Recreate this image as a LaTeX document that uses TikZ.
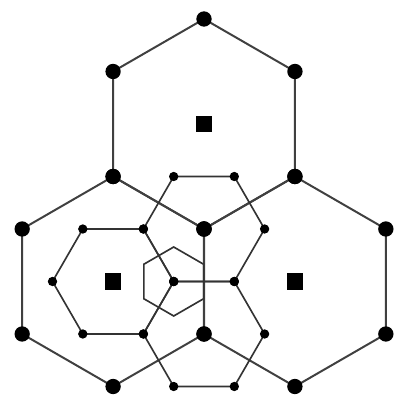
\documentclass[tikz,border=0pt]{standalone}
\begin{document}
\begin{tikzpicture}[x=0.03cm, y=0.03cm,
        bigline/.style={line width=1.7pt, black!75},
        smallline/.style={line width=1.4pt, black!80},
        bigdot/.style={circle, fill=black, inner sep=0pt, minimum size=0.46cm},
        smalldot/.style={circle, fill=black, inner sep=0pt, minimum size=0.28cm},
        centre/.style={rectangle, fill=black, inner sep=0pt, minimum size=0.5cm}]

        \useasboundingbox (0,0) rectangle (403,404);

        % Large cells: three pointy-top hexagons meeting at O
        \coordinate (O) at (204,175);
        \coordinate (cT) at (204,280);
        \coordinate (cL) at (113.1,122.5);
        \coordinate (cR) at (294.9,122.5);
        \foreach \c in {T,L,R}
            \foreach \k in {1,...,6}
                \coordinate (\c\k) at ([shift={({30+60*\k}:105)}]c\c);
        \foreach \c in {T,L,R}
            \draw[bigline] (\c1) -- (\c2) -- (\c3) -- (\c4) -- (\c5) -- (\c6) -- cycle;

        % Small cells: three flat-top hexagons meeting at S
        \coordinate (S) at (173.7,122.5);
        \coordinate (sL) at (cL);
        \coordinate (sU) at (O);
        \coordinate (sD) at (204,70);
        \foreach \c in {L,U,D}
            \foreach \k in {1,...,6}
                \coordinate (s\c\k) at ([shift={({60*\k}:60.6)}]s\c);
        \foreach \c in {L,U,D}
            \draw[smallline] (s\c1) -- (s\c2) -- (s\c3) -- (s\c4) -- (s\c5) -- (s\c6) -- cycle;

        % Tiny cell round S
        \foreach \k in {1,...,6}
            \coordinate (t\k) at ([shift={({30+60*\k}:34.5)}]S);
        \draw[smallline] (t1) -- (t2) -- (t3) -- (t4) -- (t5) -- (t6) -- cycle;

        % Atoms
        \foreach \c in {L,U,D}
            \foreach \k in {1,...,6}
                \node[smalldot] (ds\c\k) at (s\c\k) {};
        \foreach \c in {T,L,R}
            \foreach \k in {1,...,6}
                \node[bigdot] (d\c\k) at (\c\k) {};
        \foreach \c in {T,L,R}
            \node[centre] (m\c) at (c\c) {};
    \end{tikzpicture}
\end{document}
